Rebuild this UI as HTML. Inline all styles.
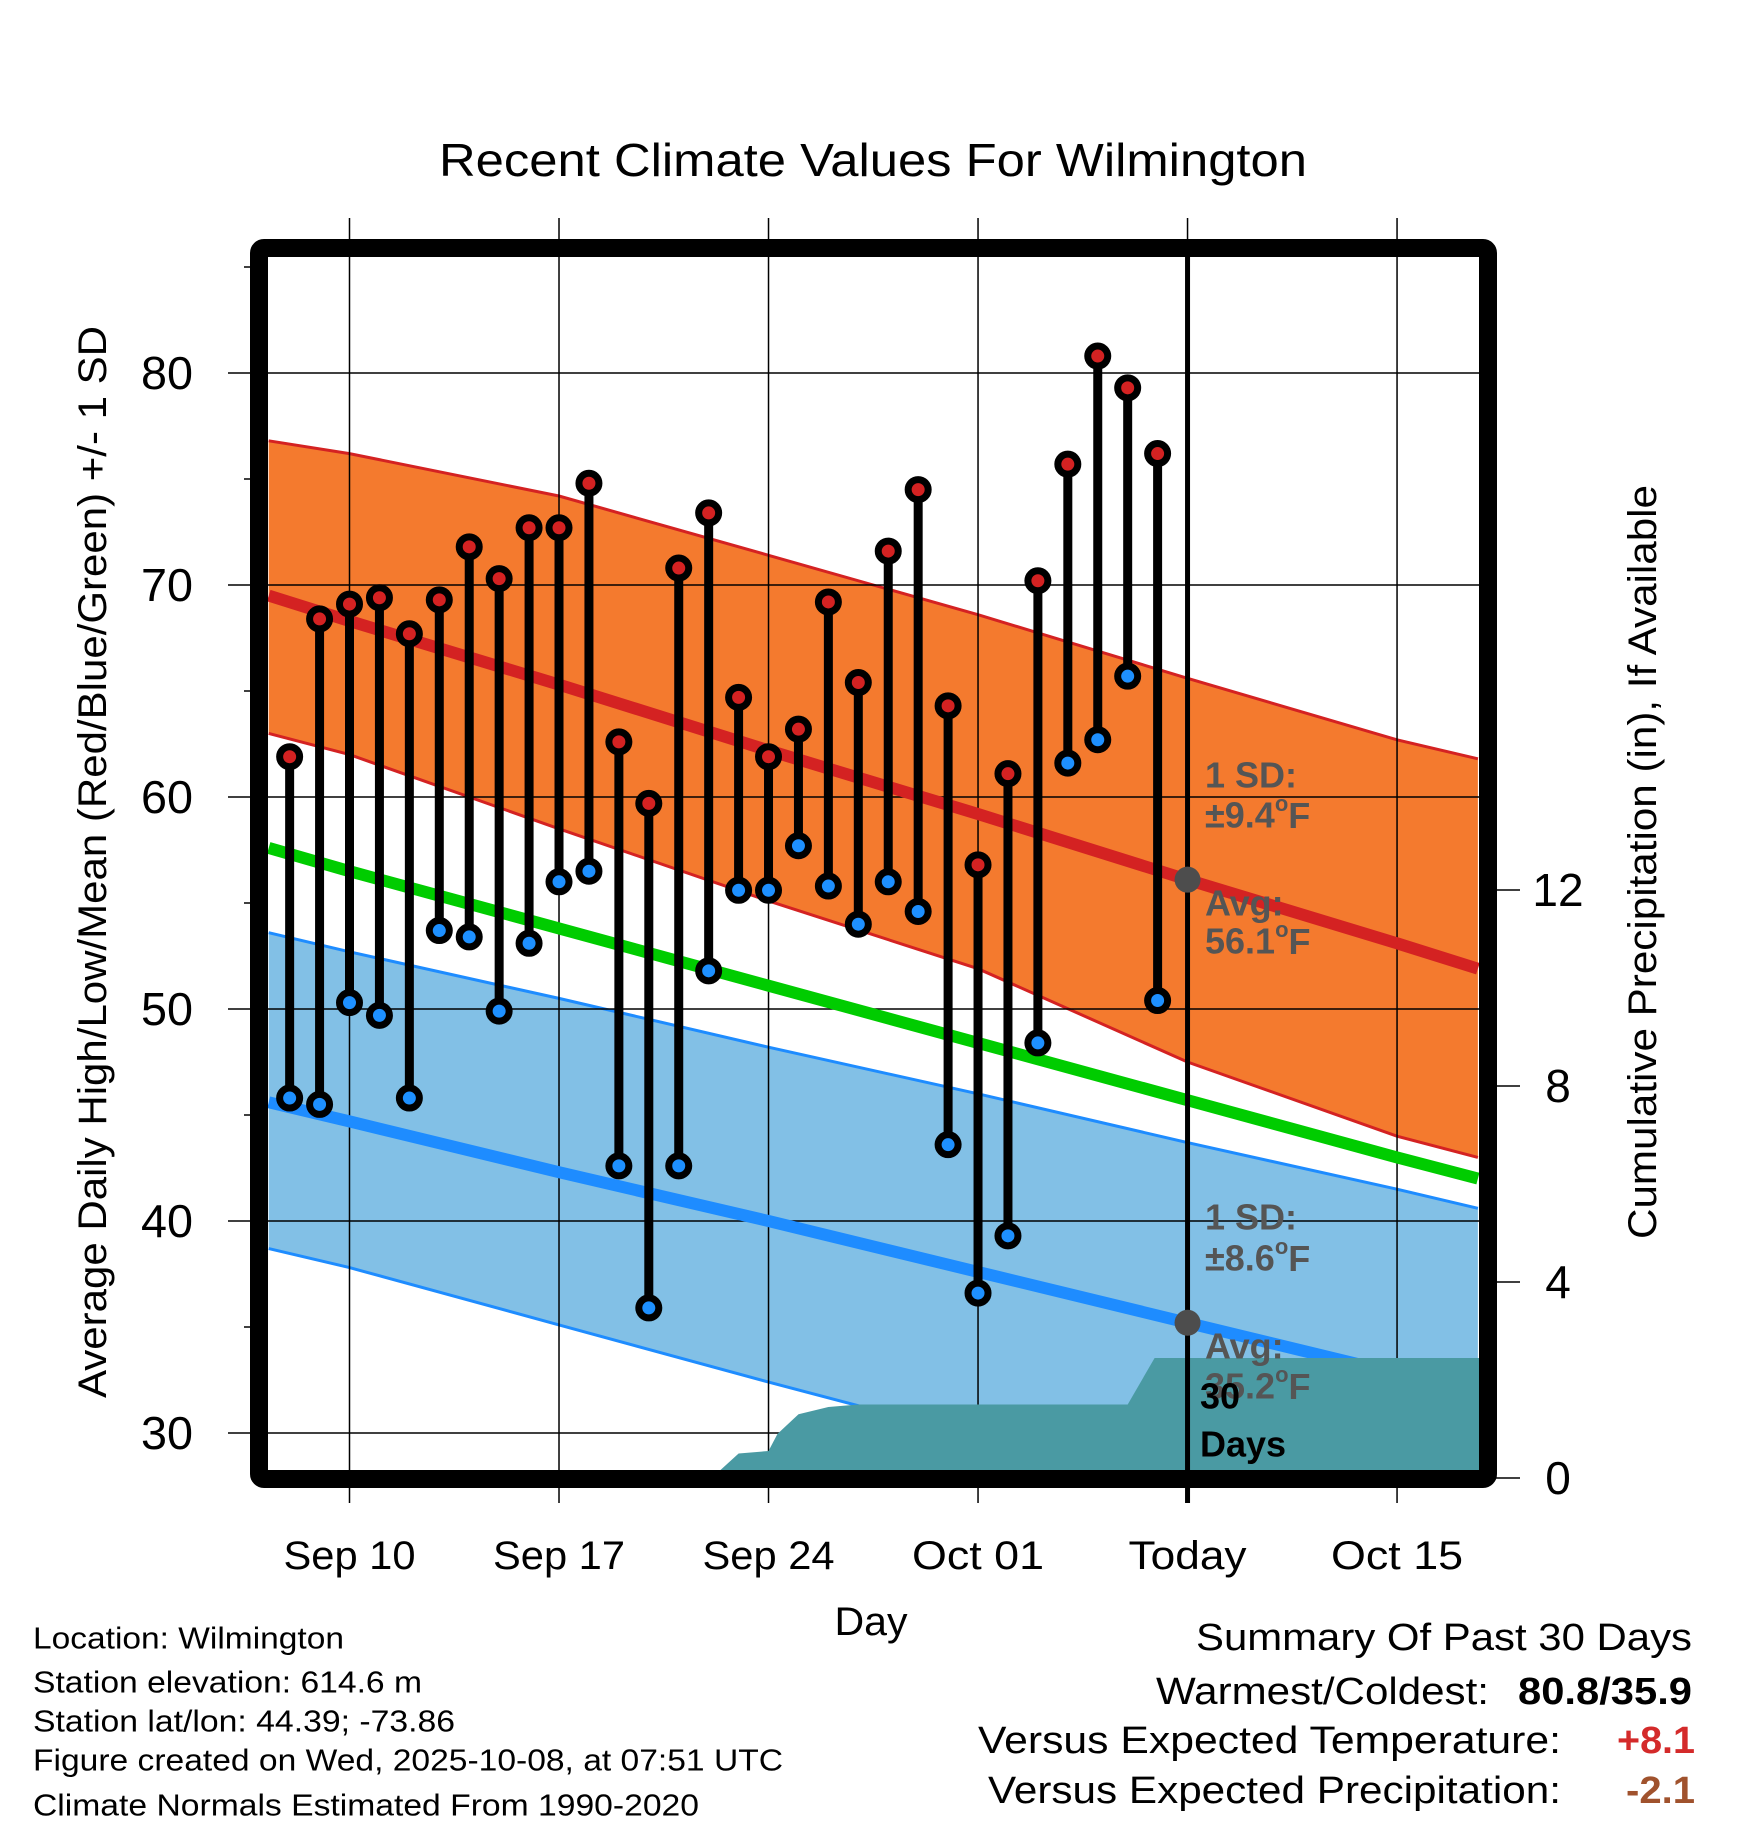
<!DOCTYPE html>
<html><head><meta charset="utf-8"><style>
html,body{margin:0;padding:0;background:#fff;}
svg{display:block;font-family:"Liberation Sans",sans-serif;}
</style></head><body>
<svg id="chart" width="1748" height="1828" viewBox="0 0 1748 1828" xmlns="http://www.w3.org/2000/svg">
<defs><clipPath id="plotclip"><rect x="268" y="257" width="1212" height="1213"/></clipPath></defs>
<text x="873" y="160" font-size="46" text-anchor="middle" dominant-baseline="central" textLength="868" lengthAdjust="spacingAndGlyphs">Recent Climate Values For Wilmington</text>
<g id="plot" clip-path="url(#plotclip)"></g>
<g id="over"></g>
<text transform="translate(93,862) rotate(-90)" font-size="40" text-anchor="middle" dominant-baseline="central" textLength="1072" lengthAdjust="spacingAndGlyphs">Average Daily High/Low/Mean (Red/Blue/Green) +/- 1 SD</text>
<text transform="translate(1643,862) rotate(-90)" font-size="40" text-anchor="middle" dominant-baseline="central" textLength="754" lengthAdjust="spacingAndGlyphs">Cumulative Precipitation (in), If Available</text>
<text x="871" y="1622" font-size="40" text-anchor="middle" dominant-baseline="central" textLength="73" lengthAdjust="spacingAndGlyphs">Day</text>
<g font-size="31" dominant-baseline="central">
<text x="33" y="1638" textLength="311" lengthAdjust="spacingAndGlyphs">Location: Wilmington</text>
<text x="33" y="1682" textLength="389" lengthAdjust="spacingAndGlyphs">Station elevation: 614.6 m</text>
<text x="33" y="1721" textLength="422" lengthAdjust="spacingAndGlyphs">Station lat/lon: 44.39; -73.86</text>
<text x="33" y="1760" textLength="750" lengthAdjust="spacingAndGlyphs">Figure created on Wed, 2025-10-08, at 07:51 UTC</text>
<text x="33" y="1805" textLength="666" lengthAdjust="spacingAndGlyphs">Climate Normals Estimated From 1990-2020</text>
</g>
<g font-size="38" dominant-baseline="central" text-anchor="end">
<text x="1692" y="1638" textLength="496" lengthAdjust="spacingAndGlyphs">Summary Of Past 30 Days</text>
<text x="1489" y="1692" textLength="333" lengthAdjust="spacingAndGlyphs">Warmest/Coldest:</text>
<text x="1692" y="1692" font-weight="bold" textLength="174" lengthAdjust="spacingAndGlyphs">80.8/35.9</text>
<text x="1561" y="1741" textLength="583" lengthAdjust="spacingAndGlyphs">Versus Expected Temperature:</text>
<text x="1695" y="1741" font-weight="bold" fill="#d42a2a" textLength="78" lengthAdjust="spacingAndGlyphs">+8.1</text>
<text x="1561" y="1791" textLength="573" lengthAdjust="spacingAndGlyphs">Versus Expected Precipitation:</text>
<text x="1695" y="1791" font-weight="bold" fill="#a0522d" textLength="69" lengthAdjust="spacingAndGlyphs">-2.1</text>
</g>
</svg>
<script>
// ---- data ----
// day offsets relative to Sep 10
const obsDays = [-2,-1,0,1,2,3,4,5,6,7,8,9,10,11,12,13,14,15,16,17,18,19,20,21,22,23,24,25,26,27];
const highs = [61.9,68.4,69.1,69.4,67.7,69.3,71.8,70.3,72.7,72.7,74.8,62.6,59.7,70.8,73.4,64.7,61.9,63.2,69.2,65.4,71.6,74.5,64.3,56.8,61.1,70.2,75.7,80.8,79.3,76.2];
const lows  = [45.8,45.5,50.3,49.7,45.8,53.7,53.4,49.9,53.1,56.0,56.5,42.6,35.9,42.6,51.8,55.6,55.6,57.7,55.8,54.0,56.0,54.6,43.6,36.6,39.3,48.4,61.6,62.7,65.7,50.4];
const normDays = [-2.7,0,7,14,21,28,35,37.7];
const hiUpper = [76.8,76.2,74.2,71.4,68.6,65.6,62.7,61.8];
const hiMean  = [69.5,68.3,65.3,62.2,59.2,56.1,53.1,51.9];
const hiLower = [63.0,62.0,58.5,55.1,51.9,47.5,44.0,43.0];
const avgMean = [57.6,56.5,53.8,51.1,48.4,45.7,43.0,42.0];
const loUpper = [53.6,52.7,50.5,48.2,46.0,43.7,41.5,40.6];
const loMean  = [45.6,44.7,42.3,40.0,37.6,35.2,32.8,31.9];
const loLower = [38.7,37.8,35.1,32.4,29.8,27.3,25.0,24.2];
const precipDays = [12.1,13.0,14.0,14.3,15.0,16.0,17.0,26.0,26.9,38.0];
const precipCum  = [0,0.50,0.55,0.9,1.30,1.45,1.50,1.50,2.45,2.45];
const yTicks = [30,40,50,60,70,80];
const yMinor = [35,45,55,65,75,85];
const y2Ticks = [0,4,8,12];
const xTickDays = [0,7,14,21,28,35];
const xTickLabels = ["Sep 10","Sep 17","Sep 24","Oct 01","Today","Oct 15"];
const todayDay = 28;
const todayHighAvg = 56.1, todayLowAvg = 35.2;

// ---- scales ----
const NS="http://www.w3.org/2000/svg";
function X(d){return 349.5 + d*29.93;}
function Y(t){return 373 + (80-t)*21.2;}
function Y2(p){return 1478 - p*49;}
const plot=document.getElementById('plot');
const over=document.getElementById('over');
const svg=document.getElementById('chart');
function mk(tag,attrs,parent){const e=document.createElementNS(NS,tag);for(const k in attrs)e.setAttribute(k,attrs[k]);parent.appendChild(e);return e;}
function pts(days,vals,fy){return days.map((d,i)=>X(d).toFixed(1)+','+fy(vals[i]).toFixed(1));}

function band(up,lo,fill,edge,name){
  const p=pts(normDays,up,Y).concat(pts(normDays,lo,Y).reverse());
  const e=mk('polygon',{points:p.join(' '),fill:fill},plot);
  
  
  const a=mk('polyline',{points:pts(normDays,up,Y).join(' '),fill:'none',stroke:edge,'stroke-width':3},plot);
  
  
  const b=mk('polyline',{points:pts(normDays,lo,Y).join(' '),fill:'none',stroke:edge,'stroke-width':3},plot);
  
  
}
band(hiUpper,hiLower,'#f47a2e','#d42222','high-sd-band');
band(loUpper,loLower,'#82c0e6','#1e8cff','low-sd-band');

yTicks.forEach(t=>{
  const g=mk('line',{x1:228,x2:1480,y1:Y(t),y2:Y(t),stroke:'#000','stroke-width':1.5},svg);
  
  
  const l=mk('text',{x:167,y:Y(t),'font-size':46,'text-anchor':'middle','dominant-baseline':'central',textLength:52,lengthAdjust:'spacingAndGlyphs'},svg);
  l.textContent=t;
  
  
});
yMinor.forEach(t=>{
  const g=mk('line',{x1:244,x2:262,y1:Y(t),y2:Y(t),stroke:'#000','stroke-width':1.5},svg);
  
  
});
xTickDays.forEach((d,i)=>{
  const g=mk('line',{x1:X(d),x2:X(d),y1:218,y2:1503,stroke:'#000','stroke-width':1.5},svg);
  
  
  const l=mk('text',{x:X(d),y:1556,'font-size':40,'text-anchor':'middle','dominant-baseline':'central',textLength:xTickLabels[i]==='Today'?118:132,lengthAdjust:'spacingAndGlyphs'},svg);
  l.textContent=xTickLabels[i];
  
  
});
y2Ticks.forEach(p=>{
  const g=mk('line',{x1:1490,x2:1520,y1:Y2(p),y2:Y2(p),stroke:'#000','stroke-width':1.5},svg);
  
  
  const l=mk('text',{x:1558,y:Y2(p),'font-size':46,'text-anchor':'middle','dominant-baseline':'central'},svg);
  l.textContent=p;
  
  
});
svg.appendChild(plot);
const bandEls=[...plot.children];
const bandsGroup=mk('g',{'clip-path':'url(#plotclip)'},svg);


bandEls.forEach(e=>bandsGroup.appendChild(e));
svg.insertBefore(bandsGroup, svg.querySelector('line'));

function meanLine(vals,color,name){
  const e=mk('polyline',{points:pts(normDays,vals,Y).join(' '),fill:'none',stroke:color,'stroke-width':12},plot);
  
  
}
meanLine(hiMean,'#d42222','normal-high-line');
meanLine(loMean,'#1e8cff','normal-low-line');
meanLine(avgMean,'#00cc00','normal-mean-line');

const pp=pts(precipDays,precipCum,Y2);
pp.push(X(38)+','+Y2(0)); pp.unshift(X(precipDays[0])+','+Y2(0));
const prc=mk('polygon',{points:pp.join(' '),fill:'#4a9aa3'},plot);



const tl=mk('line',{x1:X(todayDay),x2:X(todayDay),y1:257,y2:1503,stroke:'#000','stroke-width':5},over);


[todayHighAvg,todayLowAvg].forEach(v=>{
  const c=mk('circle',{cx:X(todayDay),cy:Y(v),r:13,fill:'#4d4d4d'},over);
  
  
});

function ann(txt,y,name,color){
  const t=mk('text',{x:1205,y:y,'font-size':36,'font-weight':'bold',fill:color||'#555','dominant-baseline':'central'},over);
  t.innerHTML=txt;
  
  
}
ann('1 SD:',775,'high-sd-label');
ann('±9.4<tspan font-size="22" dy="-12">o</tspan><tspan dy="12">F</tspan>',815,'high-sd-value');
ann('Avg:',903,'high-avg-label');
ann('56.1<tspan font-size="22" dy="-12">o</tspan><tspan dy="12">F</tspan>',941,'high-avg-value');
ann('1 SD:',1217,'low-sd-label');
ann('±8.6<tspan font-size="22" dy="-12">o</tspan><tspan dy="12">F</tspan>',1258,'low-sd-value');
ann('Avg:',1346,'low-avg-label');
ann('35.2<tspan font-size="22" dy="-12">o</tspan><tspan dy="12">F</tspan>',1386,'low-avg-value');
ann('30',1396,'precip-period-label','#000');
ann('Days',1444,'precip-period-days','#000');
over.lastChild.setAttribute('x',1200); over.lastChild.previousSibling.setAttribute('x',1200);

obsDays.forEach((d,i)=>{
  const x=X(d);
  const s=mk('line',{x1:x,x2:x,y1:Y(highs[i]),y2:Y(lows[i]),stroke:'#000','stroke-width':9},over);
  
  
  const h=mk('circle',{cx:x,cy:Y(highs[i]),r:10,fill:'#d42222',stroke:'#000','stroke-width':7},over);
  
  
  const l=mk('circle',{cx:x,cy:Y(lows[i]),r:10,fill:'#1e90ff',stroke:'#000','stroke-width':7},over);
  
  
});

const fr=mk('rect',{x:259,y:248,width:1229,height:1231,rx:5,fill:'none',stroke:'#000','stroke-width':18},svg);


svg.appendChild(over);
</script>
</body></html>
